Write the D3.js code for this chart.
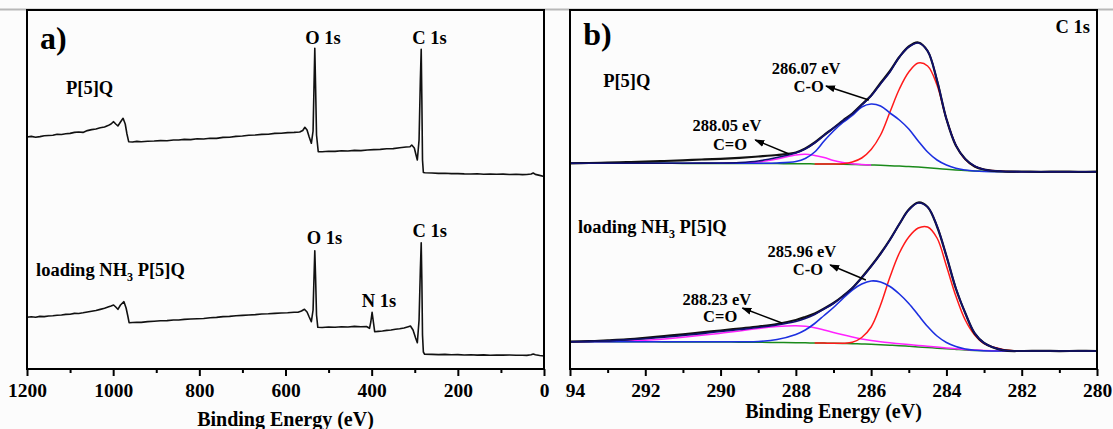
<!DOCTYPE html>
<html><head><meta charset="utf-8">
<script src="https://cdn.jsdelivr.net/npm/d3@7"></script>
<style>
body{margin:0;background:#fcfcfc}
svg{display:block}
text{font-family:"Liberation Serif","Times New Roman",serif;font-weight:bold;fill:#000}
</style></head>
<body><svg id="c" width="1113" height="429"></svg>
<script>
// ---------- DATA ----------
// Panel a) survey spectra: [binding energy (eV), intensity (a.u.)]
const surveyTop = [[1200,232],[1190,232.6],[1180,231.8],[1170,232.4],[1160,233.2],[1150,233.5],[1140,233.8],[1130,234.8],[1120,234.5],[1110,235.2],[1100,235.6],[1090,236.6],[1080,237],[1070,236.6],[1060,238.4],[1050,239.4],[1040,240],[1030,241.2],[1020,242],[1012,243.4],[1005,245],[999,247.3],[994,245],[989,243],[983,247],[977,250.7],[972,245],[968,235],[964,227.3],[955,227],[945,227.6],[935,227.2],[920,227.8],[905,228],[890,228.4],[875,228.2],[860,229],[848,229],[835,229.6],[820,229.4],[805,230.2],[790,230],[775,230.8],[760,230.6],[745,231.6],[730,231.8],[715,232.6],[700,233],[685,233.8],[670,234],[655,234.6],[640,234.8],[625,235.6],[610,235.8],[595,236.4],[580,236.6],[567,237],[560,238.5],[555,241.7],[550,239],[545,232],[540,225.7],[536,238],[534,279],[532,320.7],[530,279],[528,234],[524,217.3],[515,217.2],[500,217.8],[485,217.6],[470,218.2],[455,218],[440,218.6],[425,218.4],[410,219],[395,219.4],[380,219.6],[365,220.2],[350,220.4],[335,221.2],[320,222],[311,222.3],[307,224],[301,221],[297,214],[294,209],[290,229],[287,289],[285,319.7],[283.5,269],[282,209],[280,196.5],[276,196.3],[260,196],[245,195.6],[230,195.8],[215,195.4],[200,195.4],[185,195.1],[170,195],[155,195.2],[140,194.8],[125,195],[110,194.7],[95,194.9],[80,194.5],[65,194.7],[50,194.4],[40,194.5],[30,195],[25,196],[20,194.6],[10,193.6],[0,192.5]];
const surveyBottom = [[1200,51.7],[1190,52.2],[1180,51.8],[1170,52.6],[1160,52.4],[1150,53],[1140,53.2],[1130,53.8],[1120,54],[1110,54.6],[1100,54.8],[1090,55.6],[1080,55.5],[1070,56.2],[1060,57],[1050,57.8],[1040,58.5],[1030,59.6],[1020,60.8],[1012,62],[1005,63],[999,64],[994,62],[989,59.7],[983,64],[975,67.3],[970,61],[966,53],[963,46.3],[955,46.5],[945,46.8],[935,46.6],[920,47.4],[905,47.8],[890,48.2],[875,48.4],[860,49],[848,49],[835,49.6],[820,50],[805,50.2],[790,50.5],[775,51.2],[760,51.6],[745,52.4],[730,52.6],[715,53.2],[700,53.6],[685,54],[670,54.4],[655,55],[640,55.2],[625,55.6],[610,56],[595,56.2],[580,56.8],[571,56.7],[563,58],[556,59.7],[550,57],[545,52],[540,47.3],[536,59],[534,89],[532,118.3],[530,89],[528,54],[525,41.7],[515,41.5],[500,42],[485,41.8],[470,42.2],[455,42],[440,42.6],[425,42.3],[412,42.5],[405,40.7],[402,47],[399,56.7],[396,47],[393,37.3],[385,37.6],[375,38],[365,38.6],[355,39],[345,39.8],[335,40.2],[325,41],[315,42.3],[310,43],[304,39],[298,31],[294,26.3],[290,49],[287,99],[285,126.3],[283.5,89],[282,34],[280,17],[277,14.7],[260,14.6],[245,14.4],[230,14.6],[215,14.2],[200,14.4],[185,14],[170,14.2],[155,13.9],[140,14.1],[125,13.8],[110,14],[95,13.9],[80,14],[65,13.7],[50,13.8],[40,13.6],[30,14.2],[25,15],[20,14.2],[10,13.5],[0,13]];

// Panel b) C 1s high-resolution: shared energy grid
const energyC1s = [294,293.5,293,292.5,292,291.5,291,290.5,290,289.5,289,288.5,288,287.75,287.5,287.25,287,286.75,286.5,286.25,286,285.75,285.5,285.25,285,284.75,284.5,284.25,284,283.75,283.5,283.25,283,282.5,282,281.5,281,280.5,280];
const _ = null;
// P[5]Q
const topRaw   = [205.7,206,206.4,206.8,207.4,208,208.7,209.5,210.2,211.2,212.5,214,216.5,220.5,226.5,234,241,248.5,255.5,264.5,273.5,286,298,312,322.5,326.5,318,288.5,250,223.5,210,202.5,199.5,197.5,197.5,197.2,197.4,197.2,197.3];
const topFit   = [205.7,205.7,205.7,205.7,205.7,205.7,205.8,205.9,206,206.5,208,211.5,216,220,226,233.5,241,248,255,264,273,285,297,312,322,326,318,289,250,224,210,203,199.5,197.7,197.3,197.3,197.3,197.3,197.3];
const topCC    = [_,_,_,_,_,_,_,_,_,_,_,_,_,_,205.1,205,204.9,205.3,207,211,219.5,234,257,280,297,306,303,284,250,224,209.5,202.5,199.5,197.7,197.3,197.3,197.3,197.3,197.3];
const topCO    = [205.7,205.7,205.7,205.7,205.7,205.7,205.7,205.7,205.7,205.7,205.8,206,207.5,210.5,217,228,238,246.5,253.5,262,265,263,256,249,240,228,217,209,204,200.7,199,198,197.5,197.3,197.3,197.3,197.3,197.3,197.3];
const topCdO   = [_,_,_,_,_,_,_,_,205.7,205.8,207,210,214,214.7,213.5,211.5,208.5,206.5,205.2,204.6,204,_,_,_,_,_,_,_,_,_,_,_,_,_,_,_,_,_,_];
const topBg    = [205.7,205.7,205.7,205.7,205.7,205.65,205.6,205.6,205.6,205.55,205.5,205.4,205.3,205.2,205.1,205,204.9,204.7,204.5,204.3,204,203.7,203.3,202.9,202.5,201.9,201.2,200.5,199.7,199,198.4,198,197.7,197.4,197.3,197.3,197.3,197.3,197.3];
// loading NH3 P[5]Q
const botRaw   = [27.3,27.8,28.7,29.7,31.2,33,34.7,36.7,38.5,40.5,42.5,45,49,52,55.5,60.5,66,73,81,91.5,103,115.5,129.5,145,159.5,166.5,162,142.5,113,80.5,56,35.5,26,18.8,18,18.2,17.9,18.1,18];
const botFit   = [27.3,27.6,28.2,29.1,30.2,31.7,33.5,35.4,37.5,39.5,41.5,44,47.5,50.5,54.5,60,65.5,72.5,81,91,102.5,115,129,145,159,166,162,143,113,81,56,36,26,19,18,18,18,18,18];
const botCC    = [_,_,_,_,_,_,_,_,_,_,_,_,_,_,26,25.9,25.8,25.8,26.7,31.5,42,64,92,116,132,141,142,131,103,73,49,34,25.5,19.5,18,18,18,18,18];
const botCO    = [27.3,27.3,27.3,27.3,27.3,27.3,27.3,27.3,27.3,27.3,27.5,29.5,34.5,39,45.5,53.5,61.5,70.5,79,85,88,87,82.5,75,65.5,54,42.5,33,26.5,22.5,20,18.8,18.3,18,18,18,18,18,18];
const botCdO   = [27.3,27.4,27.6,28,28.7,30,31.7,33.7,35.8,38,40.5,42.5,43.2,42.7,41.2,39,36.5,34.2,32,30,28.4,27.2,26.2,25.3,24.4,23.6,22.7,21.9,21.1,20.3,19.6,19,18.5,18.1,18,18,18,18,18];
const botBg    = [27.3,27.3,27.3,27.2,27.2,27.1,27.1,27,27,26.8,26.7,26.5,26.3,26.2,26,25.9,25.8,25.6,25.3,25,24.7,24.3,23.8,23.3,22.7,22.1,21.5,20.8,20.2,19.6,19,18.6,18.3,18,18,18,18,18,18];

// Ticks
const surveyMajor = [1200,1000,800,600,400,200,0];
const surveyMinor = [1100,900,700,500,300,100];
const c1sMajor = [294,292,290,288,286,284,282,280];
const c1sMinor = [293,291,289,287,285,283,281];

// Labels: [text, energy, intensity, anchor]
const surveyLabels = [["O 1s",513,325,"middle"],["C 1s",265.7,325,"middle"],["O 1s",509.5,125.5,"middle"],["C 1s",265,132.3,"middle"],["N 1s",383,62,"middle"]];
const c1sLabels = [["286.07 eV",287.73,295],["C-O",287.66,277],["288.05 eV",289.83,238],["C=O",289.75,219],
                   ["285.96 eV",287.84,112],["C-O",287.68,94],["288.23 eV",290.1,64],["C=O",290.01,47]];
// arrows: [fromE, fromI, toE, toI]
const c1sArrows = [[286.06,269,287.2,283],[288.18,215,289.08,229],[286.14,89,287.09,104],[288.37,46,289.42,61]];

// ---------- DRAW ----------
const FONT = '"Liberation Serif","Times New Roman",serif';
const svg = d3.select("#c");
const W = 1113, H = 429;
svg.append("line").attr("x1",0).attr("x2",W).attr("y1",9.5).attr("y2",9.5).attr("stroke","#b8b8b8").attr("stroke-width",2);

const yS = d3.scaleLinear().domain([0,359]).range([369,10]);
const xA = d3.scaleLinear().domain([1200,0]).range([27,544]);
const xB = d3.scaleLinear().domain([294,280]).range([570,1097]);

const defs = svg.append("defs");
defs.append("marker").attr("id","ah").attr("markerUnits","userSpaceOnUse")
  .attr("markerWidth",10).attr("markerHeight",8).attr("refX",9).attr("refY",4).attr("orient","auto")
  .append("path").attr("d","M0,0.5 L10,4 L0,7.5 Z").attr("fill","#000");
defs.append("clipPath").attr("id","clipB").append("rect").attr("x",565.5).attr("y",0).attr("width",W-565.5).attr("height",H);

function axes(x, major, minor, clip){
  const g = svg.append("g").attr("transform","translate(0,369)");
  if(clip) g.attr("clip-path","url(#clipB)");
  const gm = g.append("g").call(d3.axisBottom(x).tickValues(major).tickSize(7).tickFormat(d3.format("d")));
  gm.attr("font-family",FONT);
  gm.select(".domain").remove();
  gm.selectAll("line").attr("stroke","#000").attr("stroke-width",2);
  gm.selectAll("text").attr("y",28).attr("dy",0).style("font-size","19.5px").style("font-family",FONT).style("font-weight","bold").attr("fill","#000");
  const gn = g.append("g").call(d3.axisBottom(x).tickValues(minor).tickSize(4).tickFormat(""));
  gn.select(".domain").remove();
  gn.selectAll("line").attr("stroke","#000").attr("stroke-width",2);
}

// Panel a
const lineA = d3.line().x(d=>xA(d[0])).y(d=>yS(d[1]));
[surveyTop, surveyBottom].forEach(s=>{
  svg.append("path").attr("d",lineA(s)).attr("fill","none").attr("stroke","#111").attr("stroke-width",1.6).attr("stroke-linejoin","round");
});
axes(xA, surveyMajor, surveyMinor, false);
svg.append("rect").attr("x",xA(1200)).attr("y",yS(359)).attr("width",xA(0)-xA(1200)).attr("height",yS(0)-yS(359))
  .attr("fill","none").attr("stroke","#000").attr("stroke-width",2);
surveyLabels.forEach(l=>svg.append("text").attr("x",xA(l[1])).attr("y",yS(l[2])).attr("text-anchor",l[3]).style("font-size","18.5px").text(l[0]));
svg.append("text").attr("x",xA(1170)).attr("y",yS(320)).style("font-size","32px").text("a)");
svg.append("text").attr("x",xA(1109.5)).attr("y",yS(275)).style("font-size","18.5px").text("P[5]Q");
function nh3(x,y){
  const t = svg.append("text").attr("x",x).attr("y",y).style("font-size","18.5px");
  t.append("tspan").text("loading NH");
  t.append("tspan").attr("dy",5).style("font-size","12px").text("3");
  t.append("tspan").attr("dy",-5).text(" P[5]Q");
}
nh3(xA(1179), yS(93));
svg.append("text").attr("x",xA(600)).attr("y",426).attr("text-anchor","middle").style("font-size","20px").text("Binding Energy (eV)");

// Panel b
const lineB = d3.line().defined(d=>d[1]!==null).x(d=>xB(d[0])).y(d=>yS(d[1])).curve(d3.curveCatmullRom.alpha(0.5));
const pts = arr => energyC1s.map((e,i)=>[e,arr[i]]);
const series = [
  [topBg,"#1a8a1a",1.5],[topCdO,"#ff22ff",1.5],[topCC,"#ff1a1a",1.5],[topCO,"#1c2fe0",1.6],[topRaw,"#111",2.2],[topFit,"#101070",1.6],
  [botBg,"#1a8a1a",1.5],[botCdO,"#ff22ff",1.5],[botCC,"#ff1a1a",1.5],[botCO,"#1c2fe0",1.6],[botRaw,"#111",2.2],[botFit,"#101070",1.6]
];
series.forEach(s=>{
  svg.append("path").attr("d",lineB(pts(s[0]))).attr("fill","none").attr("stroke",s[1]).attr("stroke-width",s[2]);
});
axes(xB, c1sMajor, c1sMinor, true);
svg.append("rect").attr("x",xB(294)).attr("y",yS(359)).attr("width",xB(280)-xB(294)).attr("height",yS(0)-yS(359))
  .attr("fill","none").attr("stroke","#000").attr("stroke-width",2);
c1sArrows.forEach(a=>{
  svg.append("line").attr("x1",xB(a[0])).attr("y1",yS(a[1])).attr("x2",xB(a[2])).attr("y2",yS(a[3]))
    .attr("stroke","#000").attr("stroke-width",1.4).attr("marker-end","url(#ah)");
});
c1sLabels.forEach(l=>svg.append("text").attr("x",xB(l[1])).attr("y",yS(l[2])).attr("text-anchor","middle").style("font-size","16.5px").text(l[0]));
svg.append("text").attr("x",xB(293.65)).attr("y",yS(324)).style("font-size","32px").text("b)");
svg.append("text").attr("x",xB(280.19)).attr("y",yS(336)).attr("text-anchor","end").style("font-size","18.5px").text("C 1s");
svg.append("text").attr("x",xB(293.12)).attr("y",yS(282)).style("font-size","18.5px").text("P[5]Q");
nh3(xB(293.79), yS(136));
svg.append("text").attr("x",xB(287)).attr("y",418).attr("text-anchor","middle").style("font-size","20px").text("Binding Energy (eV)");
</script>
</body></html>
